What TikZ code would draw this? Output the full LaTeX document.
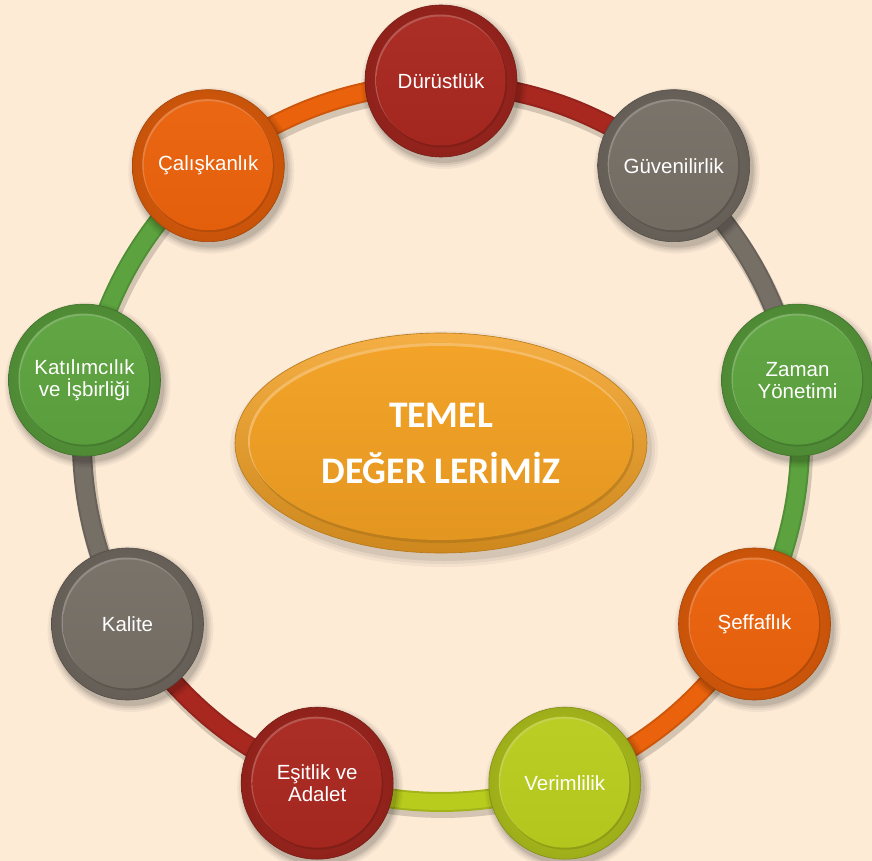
\documentclass[tikz,border=0pt]{standalone}
\usepackage{fontspec}
\setmainfont{Liberation Sans}
\newfontfamily\calibfont{Carlito}
\usetikzlibrary{shapes.geometric,calc}
\pgfdeclarelayer{bgfill}
\pgfdeclarelayer{bandshadow}
\pgfdeclarelayer{band}
\pgfdeclarelayer{nodeshadow}
\pgfsetlayers{bgfill,bandshadow,band,nodeshadow,main}
\definecolor{bgc}{RGB}{253,235,214}
\definecolor{cred}{RGB}{168,40,32}
\definecolor{cgray}{RGB}{118,111,102}
\definecolor{cgreen}{RGB}{92,162,62}
\definecolor{corange}{RGB}{234,98,12}
\definecolor{clime}{RGB}{184,204,30}
\definecolor{cgold}{RGB}{242,160,34}
\tikzset{
  valnode/.style={circle, minimum size=152pt, inner sep=0pt, text=white, align=center,
    font=\fontsize{20.5}{22}\selectfont,
    path picture={
      \coordinate (pc) at (path picture bounding box.center);
      \shade[inner color=#1, outer color=#1!85!black] (pc) circle (76pt);
      \fill[#1!65!black, opacity=.45] ([shift={(1pt,-1.5pt)}]pc) circle (65pt);
      \fill[#1!72!white, opacity=.8] ([shift={(-1pt,1.5pt)}]pc) circle (65pt);
      \shade[top color=#1!97!white, bottom color=#1!97!black] (pc) circle (64.5pt);
    },
    draw=#1!70!black, line width=0.6pt},
  bandline/.style={line width=20pt, draw=#1!88!black},
  bandcore/.style={line width=16pt, draw=#1},
  bandshade/.style={line width=22pt, draw=black, opacity=.16},
}
\newcommand\nshadow[1]{%
  \foreach \rr/\op in {83/0.04,81/0.05,79/0.07,77/0.09}{%
    \fill[black,opacity=\op] ([shift={(3pt,-5pt)}]#1.center) circle (\rr pt);}}
\begin{document}
\begin{tikzpicture}[x=1pt,y=-1pt]
\useasboundingbox (0,0) rectangle (872,861);
\begin{pgfonlayer}{bgfill}
  \fill[bgc] (0,0) rectangle (872,861);
\end{pgfonlayer}

% central ellipse
\node (c) [ellipse, minimum width=412pt, minimum height=220pt, inner sep=0pt,
  draw=cgold!75!black, line width=0.6pt, text=white, align=center,
  font=\calibfont\bfseries\fontsize{37.5}{56}\selectfont,
  path picture={
    \coordinate (pc) at (path picture bounding box.center);
    \shade[top color=cgold!85!white, bottom color=cgold!85!black] (pc) ellipse (206pt and 110pt);
    \fill[cgold!65!black, opacity=.4] ([shift={(1pt,-2pt)}]pc) ellipse (192pt and 98pt);
    \fill[cgold!65!white, opacity=.8] ([shift={(-1pt,2pt)}]pc) ellipse (192pt and 98pt);
    \shade[top color=cgold!97!white, bottom color=cgold!94!black] (pc) ellipse (191pt and 97pt);
  }] at (441,443) {TEMEL\\DEĞER LERİMİZ};

% value nodes
\node (n1) [valnode=cred]    at (441,81)      {Dürüstlük};
\node (n2) [valnode=cgray]   at (673.7,165.7) {Güvenilirlik};
\node (n3) [valnode=cgreen]  at (797.5,380.1) {Zaman\\Yönetimi};
\node (n4) [valnode=corange] at (754.5,624)   {Şeffaflık};
\node (n5) [valnode=clime]   at (564.8,783.2) {Verimlilik};
\node (n6) [valnode=cred]    at (317.2,783.2) {Eşitlik ve\\Adalet};
\node (n7) [valnode=cgray]   at (127.5,624)   {Kalite};
\node (n8) [valnode=cgreen]  at (84.5,380.1)  {Katılımcılık\\ve İşbirliği};
\node (n9) [valnode=corange] at (208.3,165.7) {Çalışkanlık};

\begin{pgfonlayer}{nodeshadow}
  \foreach \n in {n1,n2,n3,n4,n5,n6,n7,n8,n9}{\nshadow{\n}}
  \foreach \rx/\ry/\op in {214/118/0.04,211/115/0.05,208/112/0.07}{%
    \fill[black,opacity=\op] ([shift={(3pt,-6pt)}]c.center) ellipse (\rx pt and \ry pt);}
\end{pgfonlayer}

% ring bands
\foreach \a/\b/\col in {n1/n2/cred,n2/n3/cgray,n3/n4/cgreen,n4/n5/corange,n5/n6/clime,
                        n6/n7/cred,n7/n8/cgray,n8/n9/cgreen,n9/n1/corange}{
  \begin{pgfonlayer}{bandshadow}
    \draw[bandshade] ([shift={(2pt,-5pt)}]\a.center) to[bend left=15] ([shift={(2pt,-5pt)}]\b.center);
  \end{pgfonlayer}
  \begin{pgfonlayer}{band}
    \draw[bandline=\col] (\a.center) to[bend left=15] (\b.center);
    \draw[bandcore=\col] (\a.center) to[bend left=15] (\b.center);
  \end{pgfonlayer}
}
\end{tikzpicture}
\end{document}
